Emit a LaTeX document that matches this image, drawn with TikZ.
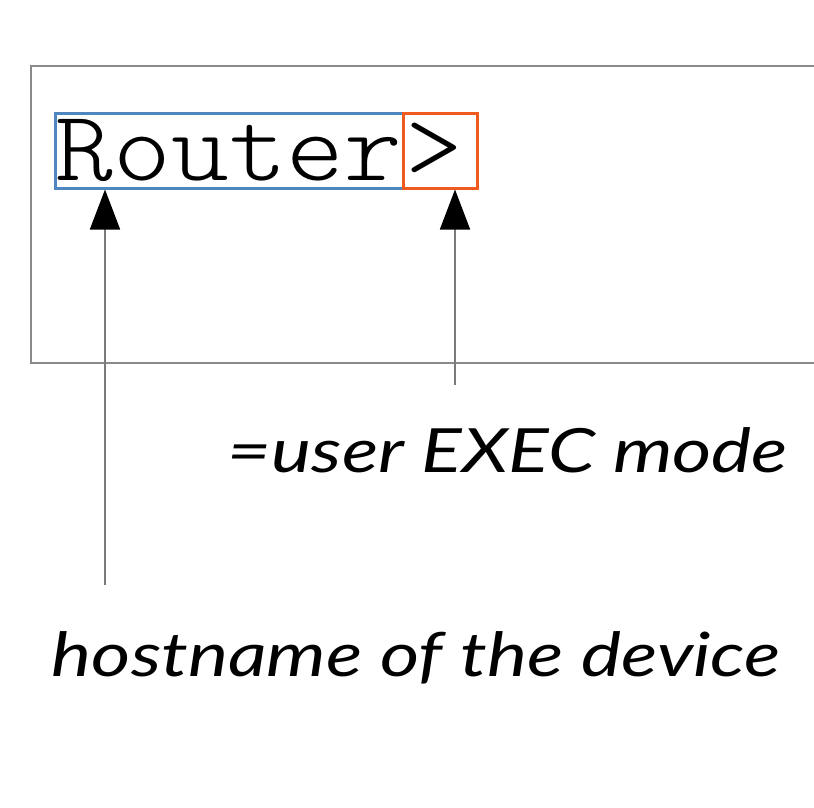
\documentclass[tikz,border=0pt]{standalone}
\usepackage{fontspec}
\setmainfont{Lato}
\newfontfamily\notefont[FakeStretch=1.24]{Lato}
\newfontfamily\monofont[FakeStretch=1.1]{Latin Modern Mono Light}
\usetikzlibrary{arrows.meta}
\definecolor{hostblue}{HTML}{4F86C0}
\definecolor{modeorange}{HTML}{F05A1E}
\definecolor{framegray}{HTML}{8A8A8A}
\definecolor{shaftgray}{HTML}{7A7A7A}
\tikzset{
  promptbox/.style={draw, line width=3pt, inner sep=0pt, minimum height=75pt, font=\monofont\fontsize{100}{100}\selectfont},
  pointer/.style={draw=shaftgray, line width=1.8pt, -{Triangle[length=40pt,width=30pt,color=black,fill=black]}},
  note/.style={font=\notefont\itshape\fontsize{61}{61}\selectfont, inner sep=0pt}
}
\begin{document}
\begin{tikzpicture}[x=1pt,y=-1pt]
\useasboundingbox (0,0) rectangle (814,807);
\clip (0,0) rectangle (814,807);
\fill[white] (0,0) rectangle (814,807);
\node[draw=framegray, line width=2pt, minimum width=820pt, minimum height=297pt, anchor=north west, inner sep=0pt] (frame) at (30,65) {};
\node[promptbox, draw=hostblue, minimum width=348pt] (host) at (229,150.5) {Router};
\node[promptbox, draw=modeorange, minimum width=74pt, text width=70pt, align=left] (mode) at (440,150.5) {>};
\coordinate (hostfoot) at (105,585);
\coordinate (modefoot) at (455,385);
\draw[pointer] (hostfoot) -- (hostfoot |- host.south);
\draw[pointer] (modefoot) -- (modefoot |- mode.south);
\node[note] (modetext) at (508,450) {=user EXEC mode};
\node[note] (hosttext) at (416,658) {hostname of the device};
\end{tikzpicture}
\end{document}
